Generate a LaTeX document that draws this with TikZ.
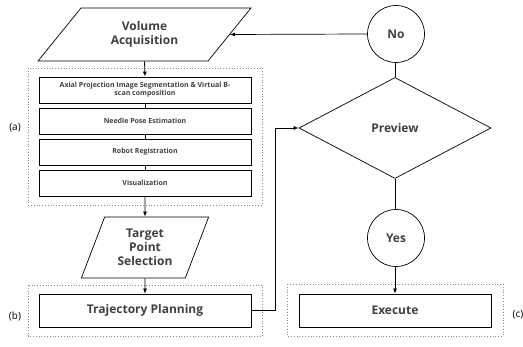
\documentclass[tikz,border=0pt]{standalone}
\usepackage{fontspec}
\setmainfont{Open Sans}
\usepackage{tikz}
\usetikzlibrary{arrows.meta,shapes.geometric,positioning}
\definecolor{labelgray}{HTML}{404040}
\definecolor{framegray}{HTML}{8C8C8C}

\begin{document}
\begin{tikzpicture}[x=1pt,y=-1pt,>={Latex[length=5pt,width=4pt]},
    every node/.style={text=labelgray,font=\bfseries\large},
    stepbox/.style={draw=black,line width=0.8pt,minimum width=212pt,minimum height=26pt,inner sep=1pt,align=center},
    slantbox/.style={draw=black,line width=0.7pt,trapezium,trapezium stretches=true,align=center,inner sep=1pt},
    decision/.style={draw=black,line width=0.7pt,diamond,minimum width=192pt,minimum height=101pt,inner sep=0pt},
    answer/.style={draw=black,line width=0.7pt,circle,minimum size=57pt,inner sep=0pt},
    group/.style={draw=framegray,dotted,line width=0.8pt},
    tag/.style={text=black,font=\normalsize}]
  \useasboundingbox (0,0) rectangle (523,347);

  % Groups
  \draw[group] (28,68) rectangle (262,205);
  \draw[group] (28,285) rectangle (262,336);
  \draw[group] (287,284) rectangle (503,336);
  \node[tag] (taga) at (15,128) {(a)};
  \node[tag] (tagb) at (15,316) {(b)};
  \node[tag] (tagc) at (518,315) {(c)};

  % Left column
  \node[slantbox,trapezium left angle=50,trapezium right angle=130,
    minimum width=213pt,minimum height=53pt]
    (volume) at (144.5,34.5) {Volume\\Acquisition};
  \node[stepbox,font=\bfseries\scriptsize] (segment) at (145,90)
    {Axial Projection Image Segmentation \& Virtual B-\\scan composition};
  \node[stepbox,font=\bfseries\scriptsize] (needle) at (145,121) {Needle Pose Estimation};
  \node[stepbox,font=\bfseries\scriptsize] (register) at (145,152) {Robot Registration};
  \node[stepbox,font=\bfseries\scriptsize] (visual) at (145,183) {Visualization};
  \node[slantbox,trapezium left angle=67,trapezium right angle=113,
    minimum width=128pt,minimum height=61pt]
    (target) at (145,247.5) {Target\\Point\\Selection};
  \node[stepbox,minimum height=33pt] (plan) at (145,310.5)
    {Trajectory Planning};

  % Right column
  \node[answer] (no) at (396,34) {No};
  \node[decision] (preview) at (395,128) {Preview};
  \node[answer] (yes) at (396,238) {Yes};
  \node[stepbox,minimum width=192pt,minimum height=33pt]
    (execute) at (395,310.5) {Execute};

  % Connectors
  \draw[->,line width=0.8pt] (volume.south) -- (segment.north);
  \draw[line width=0.8pt] (segment) -- (needle) (needle) -- (register)
    (register) -- (visual);
  \draw[->,line width=0.8pt] (visual.south) -- (target.north);
  \draw[->,line width=0.8pt] (target.south) -- (plan.north);
  \draw[->,line width=0.7pt] (plan.east) -- ++(24,0) |- (preview.west);
  \draw[line width=0.7pt] (preview.north) -- (preview.north |- no.south);
  \draw[->,line width=0.7pt] (no.west) -- (volume.east);
  \draw[line width=0.7pt] (preview.south) -- (preview.south |- yes.north);
  \draw[->,line width=0.7pt] (yes.south -| execute.north) -- (execute.north);
\end{tikzpicture}
\end{document}
